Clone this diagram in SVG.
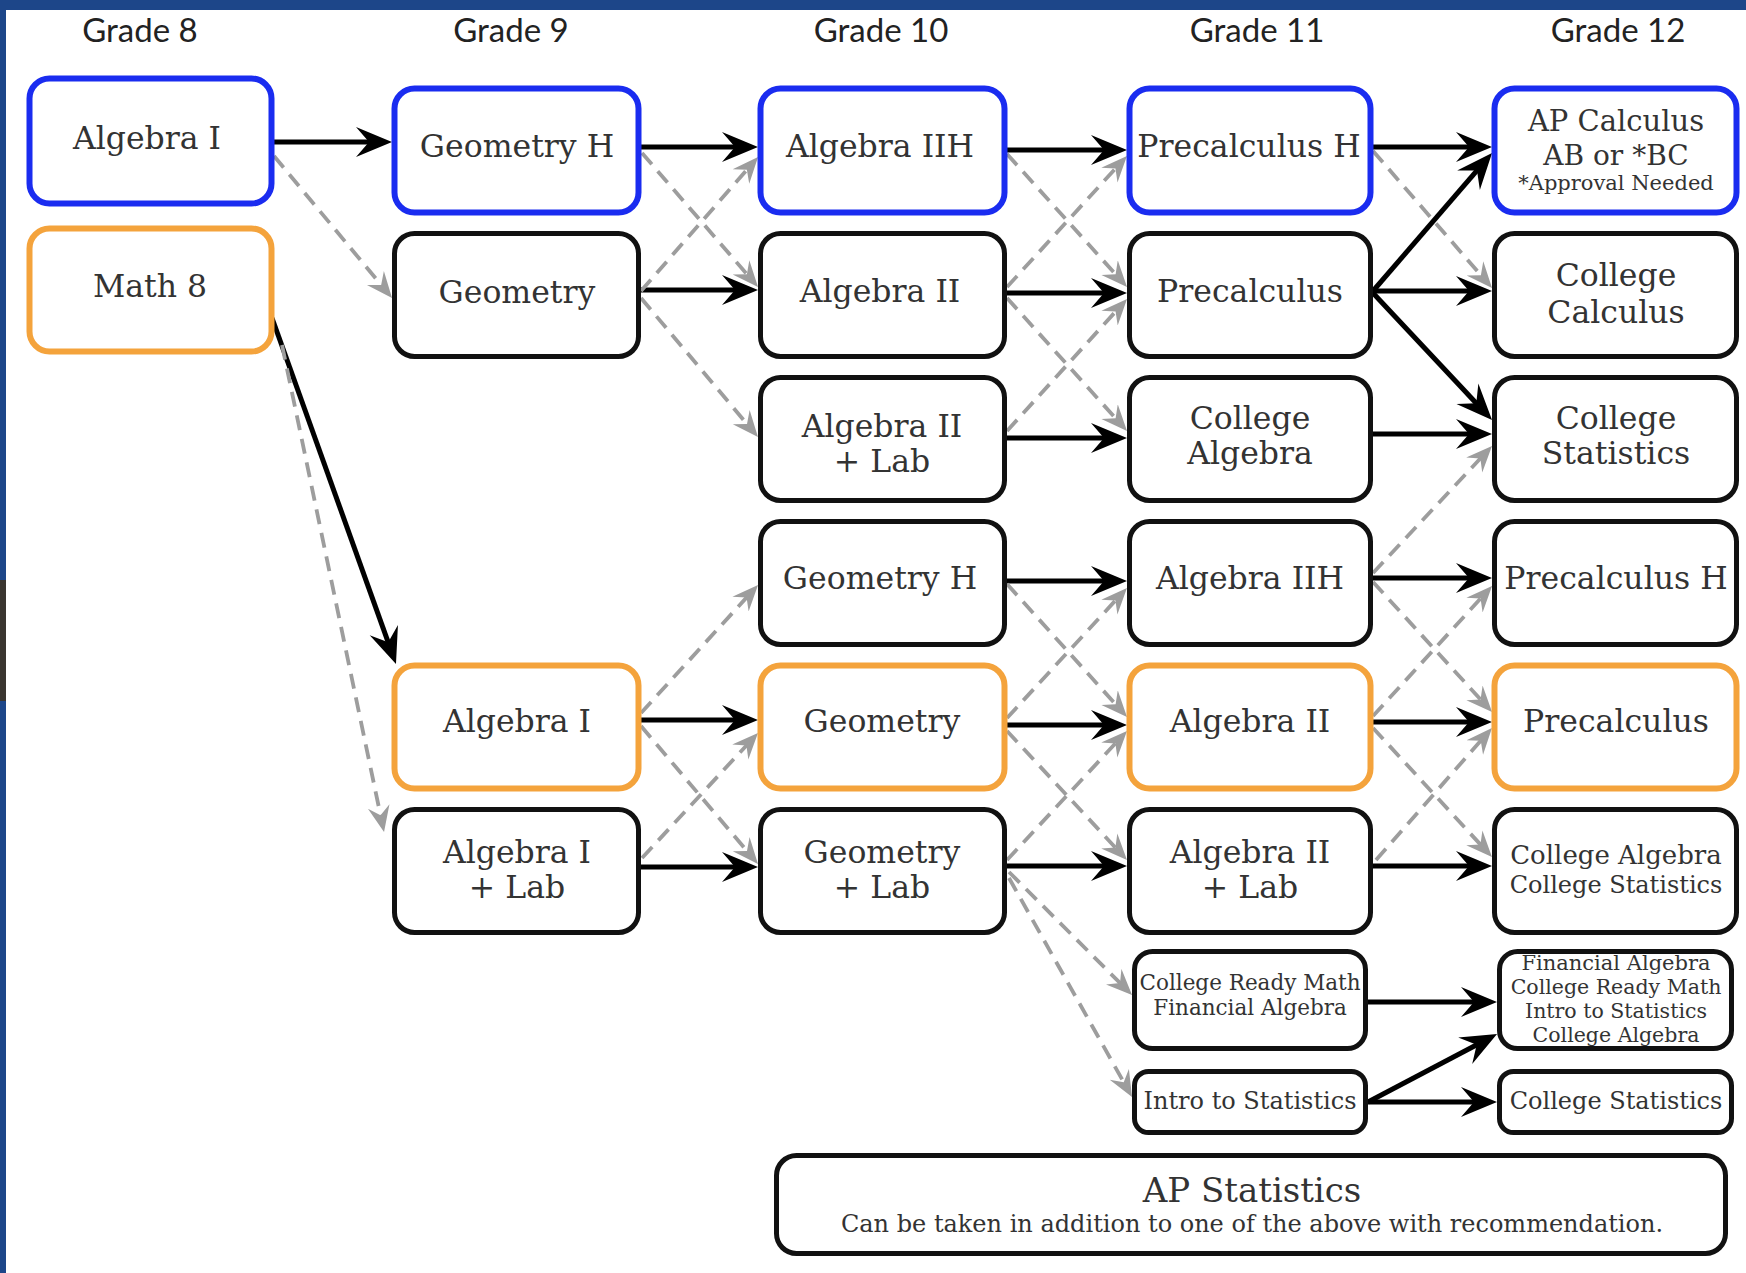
<svg xmlns="http://www.w3.org/2000/svg" width="1746" height="1273" viewBox="0 0 1746 1273">
<style>
.box{fill:#fff;stroke:#111;stroke-width:5}
.blue{stroke:#1a2cf0;stroke-width:6}
.orange{stroke:#f4a33c;stroke-width:6}
.t{font-family:"DejaVu Serif","Liberation Serif",serif;fill:#333;text-anchor:middle;font-size:31.5px}
.hdr{font-family:Lato,"Open Sans",sans-serif;fill:#222;text-anchor:middle;font-size:33px}
.s{fill:none;stroke:#000;stroke-width:5;marker-end:url(#ah)}
.d{fill:none;stroke:#9d9d9d;stroke-width:3.8;stroke-dasharray:15 9;marker-end:url(#ahd)}
</style>
<defs>
<marker id="ah" markerUnits="userSpaceOnUse" viewBox="0 -16 36 32" markerWidth="36" markerHeight="32" refX="26" refY="0" orient="auto">
<path d="M0,-15 L36,0 L0,15 L13,0 Z" fill="#000"/>
</marker>
<marker id="ahd" markerUnits="userSpaceOnUse" viewBox="0 -12 26 24" markerWidth="26" markerHeight="24" refX="20" refY="0" orient="auto">
<path d="M0,-11 L26,0 L0,11 L9,0 Z" fill="#9d9d9d"/>
</marker>
</defs>
<rect x="0" y="0" width="1746" height="1273" fill="#fff"/>
<rect x="0" y="0" width="1746" height="10" fill="#1d4689"/>
<rect x="0" y="0" width="6" height="1273" fill="#1d4689"/>
<rect x="0" y="580" width="6" height="121" fill="#3a3530"/>

<g id="headers">
<text class="hdr" x="140" y="42">Grade 8</text>
<text class="hdr" x="511" y="42">Grade 9</text>
<text class="hdr" x="881" y="42">Grade 10</text>
<text class="hdr" x="1257" y="42">Grade 11</text>
<text class="hdr" x="1618" y="42">Grade 12</text>
</g>

<g id="connectors">
<!-- solid -->
<path class="s" d="M274,142 L382,142"/>
<path class="s" d="M641,147 L748,147"/>
<path class="s" d="M1007,150 L1117,150"/>
<path class="s" d="M1373,147 L1482,147"/>
<path class="s" d="M641,290 L748,290"/>
<path class="s" d="M1007,293 L1117,293"/>
<path class="s" d="M1373,291 L1485.5,160.6"/>
<path class="s" d="M1373,291 L1482,291"/>
<path class="s" d="M1373,293 L1485.2,412.7"/>
<path class="s" d="M1007,438 L1117,438"/>
<path class="s" d="M1373,434 L1482,434"/>
<path class="s" d="M1007,581 L1117,581"/>
<path class="s" d="M1373,578 L1482,578"/>
<path class="s" d="M641,720 L748,720"/>
<path class="s" d="M1007,725 L1117,725"/>
<path class="s" d="M1373,722 L1482,722"/>
<path class="s" d="M641,867 L748,867"/>
<path class="s" d="M1007,866 L1117,866"/>
<path class="s" d="M1373,866 L1482,866"/>
<path class="s" d="M1368,1002 L1487,1002"/>
<path class="s" d="M1368,1102 L1488.2,1038.7"/>
<path class="s" d="M1368,1102 L1487,1102"/>
<path class="s" d="M272,318 L392.6,654.6"/>
<!-- dashed -->
<path class="d" d="M274,156 L388.2,293.4"/>
<path class="d" d="M282,345 L382.8,826.1"/>
<path class="d" d="M642,153 L754.1,282.5"/>
<path class="d" d="M641,291 L754.1,161.5"/>
<path class="d" d="M641,298 L754.1,432.4"/>
<path class="d" d="M641,713 L754,589.4"/>
<path class="d" d="M641,726 L754.1,859.4"/>
<path class="d" d="M642,858 L753.9,737.4"/>
<path class="d" d="M1007,154 L1123,282.5"/>
<path class="d" d="M1007,287 L1122.9,160.4"/>
<path class="d" d="M1007,298 L1123,426.5"/>
<path class="d" d="M1007,431 L1123,303.4"/>
<path class="d" d="M1007,584 L1123,712.5"/>
<path class="d" d="M1007,718 L1122.9,592.4"/>
<path class="d" d="M1007,731 L1122.9,855.6"/>
<path class="d" d="M1007,860 L1122.9,735.4"/>
<path class="d" d="M1009,872 L1127.8,990.8"/>
<path class="d" d="M1009,878 L1129.1,1091.8"/>
<path class="d" d="M1373,151 L1488.1,283.5"/>
<path class="d" d="M1373,573 L1487.9,450.4"/>
<path class="d" d="M1373,582 L1488,707.6"/>
<path class="d" d="M1373,716 L1488,590.4"/>
<path class="d" d="M1373,728 L1487.9,852.6"/>
<path class="d" d="M1376,860 L1488,732.5"/>
</g>

<!-- Grade 8 -->
<g id="g8-algebra1"><rect class="box blue" x="29.5" y="78.5" width="242" height="125" rx="20"/><text class="t" x="147" y="149">Algebra I</text></g>
<g id="g8-math8"><rect class="box orange" x="29.5" y="228.5" width="242" height="123" rx="20"/><text class="t" x="150" y="297">Math 8</text></g>

<!-- Grade 9 -->
<g id="g9-geometryh"><rect class="box blue" x="394.5" y="88.5" width="244" height="124" rx="20"/><text class="t" x="517" y="157">Geometry H</text></g>
<g id="g9-geometry"><rect class="box" x="394.5" y="233.5" width="244" height="123" rx="20"/><text class="t" x="517" y="303">Geometry</text></g>
<g id="g9-algebra1"><rect class="box orange" x="394.5" y="665.5" width="244" height="123" rx="20"/><text class="t" x="517" y="732">Algebra I</text></g>
<g id="g9-algebra1lab"><rect class="box" x="394.5" y="809.5" width="244" height="123" rx="20"/><text class="t" x="517" y="863">Algebra I</text><text class="t" x="517" y="898">+ Lab</text></g>

<!-- Grade 10 -->
<g id="g10-algebra2h"><rect class="box blue" x="760.5" y="88.5" width="244" height="124" rx="20"/><text class="t" x="880" y="157">Algebra IIH</text></g>
<g id="g10-algebra2"><rect class="box" x="760.5" y="233.5" width="244" height="123" rx="20"/><text class="t" x="880" y="302">Algebra II</text></g>
<g id="g10-algebra2lab"><rect class="box" x="760.5" y="377.5" width="244" height="123" rx="20"/><text class="t" x="882" y="437">Algebra II</text><text class="t" x="882" y="472">+ Lab</text></g>
<g id="g10-geometryh"><rect class="box" x="760.5" y="521.5" width="244" height="123" rx="20"/><text class="t" x="880" y="589">Geometry H</text></g>
<g id="g10-geometry"><rect class="box orange" x="760.5" y="665.5" width="244" height="123" rx="20"/><text class="t" x="882" y="732">Geometry</text></g>
<g id="g10-geometrylab"><rect class="box" x="760.5" y="809.5" width="244" height="123" rx="20"/><text class="t" x="882" y="863">Geometry</text><text class="t" x="882" y="898">+ Lab</text></g>

<!-- Grade 11 -->
<g id="g11-precalch"><rect class="box blue" x="1129.5" y="88.5" width="241" height="124" rx="20"/><text class="t" x="1249" y="157">Precalculus H</text></g>
<g id="g11-precalc"><rect class="box" x="1129.5" y="233.5" width="241" height="123" rx="20"/><text class="t" x="1250" y="302">Precalculus</text></g>
<g id="g11-collegealg"><rect class="box" x="1129.5" y="377.5" width="241" height="123" rx="20"/><text class="t" x="1250" y="429">College</text><text class="t" x="1250" y="464">Algebra</text></g>
<g id="g11-algebra2h"><rect class="box" x="1129.5" y="521.5" width="241" height="123" rx="20"/><text class="t" x="1250" y="589">Algebra IIH</text></g>
<g id="g11-algebra2"><rect class="box orange" x="1129.5" y="665.5" width="241" height="123" rx="20"/><text class="t" x="1250" y="732">Algebra II</text></g>
<g id="g11-algebra2lab"><rect class="box" x="1129.5" y="809.5" width="241" height="123" rx="20"/><text class="t" x="1250" y="863">Algebra II</text><text class="t" x="1250" y="898">+ Lab</text></g>
<g id="g11-crm"><rect class="box" x="1134.5" y="951.5" width="231" height="97" rx="18"/><text class="t" x="1250" y="990" style="font-size:21.5px">College Ready Math</text><text class="t" x="1250" y="1015" style="font-size:21.5px">Financial Algebra</text></g>
<g id="g11-introstats"><rect class="box" x="1134.5" y="1071.5" width="231" height="61" rx="14"/><text class="t" x="1250" y="1109" style="font-size:24px">Intro to Statistics</text></g>

<!-- Grade 12 -->
<g id="g12-apcalc"><rect class="box blue" x="1494.5" y="88.5" width="242" height="124" rx="20"/><text class="t" x="1616" y="131" style="font-size:29px">AP Calculus</text><text class="t" x="1616" y="165" style="font-size:28px">AB or *BC</text><text class="t" x="1616" y="190" style="font-size:21px">*Approval Needed</text></g>
<g id="g12-collegecalc"><rect class="box" x="1494.5" y="233.5" width="242" height="123" rx="20"/><text class="t" x="1616" y="286">College</text><text class="t" x="1616" y="323">Calculus</text></g>
<g id="g12-collegestats"><rect class="box" x="1494.5" y="377.5" width="242" height="123" rx="20"/><text class="t" x="1616" y="429">College</text><text class="t" x="1616" y="464">Statistics</text></g>
<g id="g12-precalch"><rect class="box" x="1494.5" y="521.5" width="242" height="123" rx="20"/><text class="t" x="1616" y="589">Precalculus H</text></g>
<g id="g12-precalc"><rect class="box orange" x="1494.5" y="665.5" width="242" height="123" rx="20"/><text class="t" x="1616" y="732">Precalculus</text></g>
<g id="g12-caco"><rect class="box" x="1494.5" y="809.5" width="242" height="123" rx="20"/><text class="t" x="1616" y="864" style="font-size:26px">College Algebra</text><text class="t" x="1616" y="893" style="font-size:24px">College Statistics</text></g>
<g id="g12-options"><rect class="box" x="1499.5" y="951.5" width="232" height="97" rx="18"/><text class="t" x="1616" y="969.5" style="font-size:21px">Financial Algebra</text><text class="t" x="1616" y="993.5" style="font-size:20.5px">College Ready Math</text><text class="t" x="1616" y="1017.5" style="font-size:20.5px">Intro to Statistics</text><text class="t" x="1616" y="1041.5" style="font-size:20.5px">College Algebra</text></g>
<g id="g12-collegestats2"><rect class="box" x="1499.5" y="1071.5" width="232" height="61" rx="14"/><text class="t" x="1616" y="1109" style="font-size:24px">College Statistics</text></g>

<g id="apstats"><rect class="box" x="776.5" y="1155.5" width="949" height="98" rx="20"/><text class="t" x="1252" y="1202" style="font-size:34px">AP Statistics</text><text class="t" x="1252" y="1232" style="font-size:24px">Can be taken in addition to one of the above with recommendation.</text></g>
</svg>
